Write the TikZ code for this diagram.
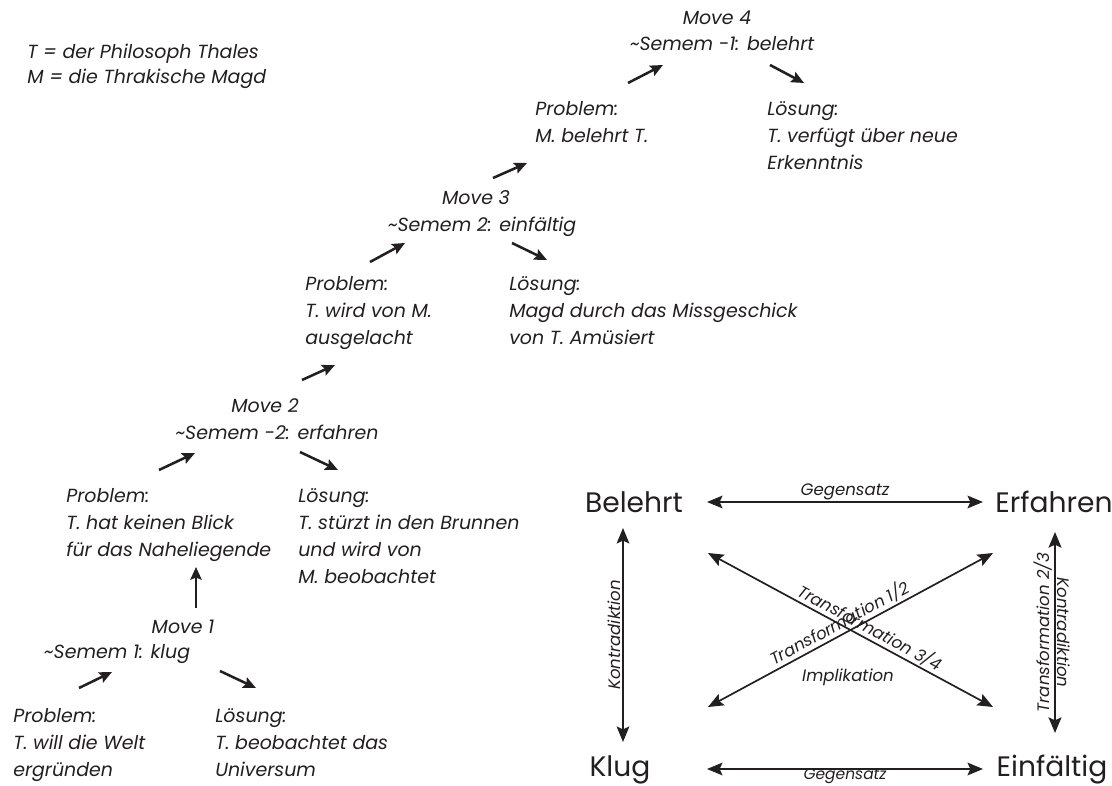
\documentclass[tikz,border=0pt]{standalone}
\usepackage{fontspec}
\setmainfont{Poppins}
\usetikzlibrary{arrows.meta}

\definecolor{tinte}{RGB}{35,31,32}
\newcommand{\haupt}{\fontsize{13.5}{19.2}\selectfont\itshape}
\newcommand{\legende}{\fontsize{13.5}{17.8}\selectfont\itshape}
\newcommand{\klein}{\fontsize{11.8}{13}\selectfont\itshape}
\newcommand{\gross}{\fontsize{20}{24}\selectfont}

\tikzset{
    txt/.style={font=\haupt, align=left, anchor=north west, inner sep=0pt},
    zeile/.style={font=\haupt, anchor=base, inner sep=0pt},
    wort/.style={font=\gross, anchor=base, inner sep=0pt},
    lbl/.style={font=\klein, inner sep=1pt},
    pfeil/.style={line width=1.8pt, -{Stealth[length=9pt, width=8pt, inset=1.5pt]}},
    dpfeil/.style={line width=1.2pt, {Stealth[length=11pt, width=9pt, inset=2pt]}-{Stealth[length=11pt, width=9pt, inset=2pt]}}
}

\begin{document}
\begin{tikzpicture}[x=0.025cm, y=-0.025cm, color=tinte]
    \useasboundingbox (0,0) rectangle (1112,786);

    % Legende
    \node[txt, font=\legende] (leg) at (27,44) {T = der Philosoph Thales\\M = die Thrakische Magd};

    % Moves
    \node[zeile] (m4) at (717,25) {Move 4};
    \node[zeile] (s4) at (722,51) {\textasciitilde Semem -1: belehrt};
    \node[txt] (p4) at (535,101) {Problem:\\M. belehrt T.};
    \node[txt] (l4) at (767,101) {Lösung:\\T. verfügt über neue\\Erkenntnis};

    \node[zeile] (m3) at (476,205) {Move 3};
    \node[zeile] (s3) at (482,232) {\textasciitilde Semem 2: einfältig};
    \node[txt] (p3) at (305,276) {Problem:\\T. wird von M.\\ausgelacht};
    \node[txt] (l3) at (509,276) {Lösung:\\Magd durch das Missgeschick\\von T. Amüsiert};

    \node[zeile] (m2) at (265,413) {Move 2};
    \node[zeile] (s2) at (277,440) {\textasciitilde Semem -2: erfahren};
    \node[txt] (p2) at (66,488) {Problem:\\T. hat keinen Blick\\für das Naheliegende};
    \node[txt] (l2) at (298,488) {Lösung:\\T. stürzt in den Brunnen\\und wird von\\M. beobachtet};

    \node[zeile] (m1) at (183,633) {Move 1};
    \node[zeile] (s1) at (117,658) {\textasciitilde Semem 1: klug};
    \node[txt] (p1) at (13,708) {Problem:\\T. will die Welt\\ergründen};
    \node[txt] (l1) at (215,708) {Lösung:\\T. beobachtet das\\Universum};

    % kurze Pfeile
    \foreach \n/\xa/\ya/\xb/\yb in {a1/79/688/112/672, b1/220/671/256/688, c1/196/608/196/567,
                                    a2/159/470/195/453, b2/300/452/338/470, c2/302/380/335/365,
                                    a3/370/262/405/243, b3/512/243/547/260, c3/493/178/527/163,
                                    a4/628/83/663/65, b4/770/65/804/83} {
        \coordinate (\n-s) at (\xa,\ya);
        \coordinate (\n-e) at (\xb,\yb);
        \draw[pfeil] (\n-s) -- (\n-e);
    }

    % Quadrat
    \node[wort] (bel) at (634,513) {Belehrt};
    \node[wort] (erf) at (1054,513) {Erfahren};
    \node[wort] (klu) at (620,776) {Klug};
    \node[wort] (ein) at (1052,776) {Einfältig};

    \coordinate (o1) at (707,502);
    \coordinate (o2) at (983,502);
    \coordinate (u1) at (707,769);
    \coordinate (u2) at (983,769);
    \coordinate (l1) at (623,528);
    \coordinate (l2) at (623,742);
    \coordinate (r1) at (1055,532);
    \coordinate (r2) at (1055,733);
    \coordinate (d1) at (708,553);
    \coordinate (d2) at (993,707);
    \coordinate (d3) at (708,707);
    \coordinate (d4) at (993,553);

    \draw[dpfeil] (o1) -- (o2) node[lbl, midway, above] {Gegensatz};
    \draw[dpfeil] (u1) -- (u2) node[lbl, midway, anchor=north, inner sep=0pt, yshift=1pt,
        font=\fontsize{11}{12}\selectfont\itshape] {Gegensatz};
    \draw[dpfeil] (l1) -- (l2) node[lbl, midway, rotate=90, anchor=south] {Kontradiktion};
    \draw[dpfeil, line width=2pt] (r1) -- (r2)
        node[lbl, midway, rotate=90, anchor=south] {Transformation 2/3}
        node[lbl, midway, rotate=-90, anchor=south] {Kontradiktion};
    \draw[dpfeil] (d3) -- (d4) node[lbl, pos=0.48, sloped, above] {Transformation 1/2};
    \draw[dpfeil] (d1) -- (d2) node[lbl, pos=0.55, sloped, above] {Transformation 3/4};
    \node[lbl] (impl) at (848,677) {Implikation};
\end{tikzpicture}
\end{document}
